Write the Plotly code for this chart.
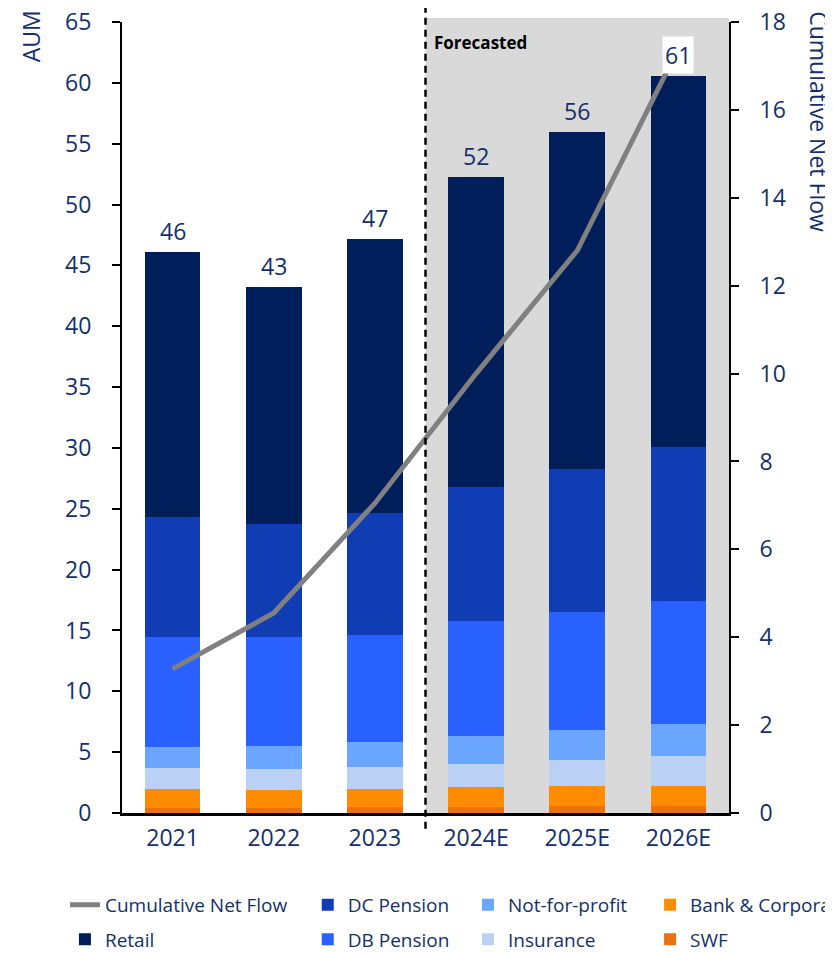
"""AUM by client segment with cumulative net flow overlay."""
import plotly.graph_objects as go

years = ['2021', '2022', '2023', '2024E', '2025E', '2026E']

# AUM stack, bottom to top
swf = [0.45, 0.45, 0.5, 0.5, 0.6, 0.6]
bank_corporate = [1.5, 1.45, 1.5, 1.65, 1.6, 1.65]
insurance = [1.75, 1.7, 1.75, 1.9, 2.15, 2.4]
not_for_profit = [1.7, 1.9, 2.05, 2.3, 2.45, 2.7]
db_pension = [9.05, 8.95, 8.85, 9.45, 9.7, 10.05]
dc_pension = [9.85, 9.3, 10.0, 11.0, 11.8, 12.7]
retail = [21.8, 19.5, 22.5, 25.5, 27.7, 30.45]

cumulative_net_flow = [3.28, 4.55, 7.05, 10.0, 12.8, 17.4]

NAVY_TEXT = '#13306b'
FONT = 'Open Sans'

# name, values, colour, legend column, rank inside column
segments = [
    ('SWF', swf, '#ec7211', 'legend4', 2),
    ('Bank & Corporate', bank_corporate, '#ff8c00', 'legend4', 1),
    ('Insurance', insurance, '#bbd0f5', 'legend3', 2),
    ('Not-for-profit', not_for_profit, '#6aa6ff', 'legend3', 1),
    ('DB Pension', db_pension, '#2861ff', 'legend2', 2),
    ('DC Pension', dc_pension, '#103cb4', 'legend2', 1),
    ('Retail', retail, '#001e5a', 'legend', 2),
]

fig = go.Figure()
for name, values, colour, legend, rank in segments:
    fig.add_trace(go.Bar(x=years, y=values, name=name, marker_color=colour,
                         marker_line_width=0, legend=legend, legendrank=rank,
                         legendgroup=name))

fig.add_trace(go.Scatter(x=years, y=cumulative_net_flow, name='Cumulative Net Flow',
                         mode='lines', line=dict(color='#808080', width=5),
                         yaxis='y2', legend='legend', legendrank=1,
                         legendgroup='Cumulative Net Flow'))

# totals above the bars (x as category index: '2021' would be read as a serial number)
totals = [sum(vals) for vals in zip(*[s[1] for s in segments])]
for i, total in enumerate(totals):
    fig.add_annotation(x=i, xref='x', y=total, yref='y', text=f'{total:.0f}',
                       showarrow=False, yanchor='middle', yshift=21,
                       font=dict(family=FONT, size=23, color=NAVY_TEXT),
                       bgcolor='white' if i == len(years) - 1 else None,
                       borderpad=2)

# forecast region
fig.add_shape(type='rect', xref='x', yref='paper', x0=2.5, x1=5.5, y0=0, y1=1.005,
              fillcolor='#d9d9d9', line_width=0, layer='below')
fig.add_shape(type='line', xref='x', yref='paper', x0=2.5, x1=2.5, y0=-0.02, y1=1.022,
              line=dict(color='black', width=2.5, dash='7px,5px'))
fig.add_annotation(x=2.5, xref='x', y=0.974, yref='paper', text='<b>Forecasted</b>',
                   showarrow=False, xanchor='left', yanchor='middle', xshift=6,
                   font=dict(family=FONT, size=17, color='black'))

# axis titles
fig.add_annotation(x=-0.15, y=0.982, xref='paper', yref='paper', text='AUM',
                   textangle=-90, showarrow=False, xanchor='center', yanchor='middle',
                   font=dict(family=FONT, size=23, color=NAVY_TEXT))
fig.add_annotation(x=1.148, y=0.8736, xref='paper', yref='paper',
                   text='Cumulative Net Flow', textangle=90, showarrow=False,
                   xanchor='center', yanchor='middle',
                   font=dict(family=FONT, size=23, color=NAVY_TEXT))

axis_style = dict(showgrid=False, zeroline=False, showline=True, linecolor='black',
                  linewidth=2, ticks='outside', ticklen=8, tickwidth=2,
                  tickcolor='black', ticklabeloverflow='allow',
                  tickfont=dict(family=FONT, size=23, color=NAVY_TEXT))

legend_style = dict(orientation='v', yanchor='bottom', y=-0.1843, xanchor='left',
                    traceorder='grouped', tracegroupgap=7,
                    font=dict(family=FONT, size=19, color=NAVY_TEXT),
                    bgcolor='rgba(0,0,0,0)')

fig.update_layout(
    width=825, height=945,
    barmode='stack', bargap=0.45,
    plot_bgcolor='white', paper_bgcolor='white',
    margin=dict(l=114, r=104, t=14, b=140, autoexpand=False),
    font=dict(family=FONT, color=NAVY_TEXT),
    xaxis=dict(type='category', range=[-0.5, 5.5], showline=True, linecolor='black',
               linewidth=2.5, showgrid=False, ticks='', ticklabelstandoff=3,
               tickfont=dict(family=FONT, size=23, color=NAVY_TEXT)),
    yaxis=dict(range=[0, 65], dtick=5, ticklabelstandoff=16, **axis_style),
    yaxis2=dict(range=[0, 18], dtick=2, overlaying='y', side='right',
                ticklabelstandoff=16, **axis_style),
    legend=dict(x=-0.094, **legend_style),
    legend2=dict(x=0.306, **legend_style),
    legend3=dict(x=0.570, **legend_style),
    legend4=dict(x=0.870, **legend_style),
)

fig.write_html('out.html')
